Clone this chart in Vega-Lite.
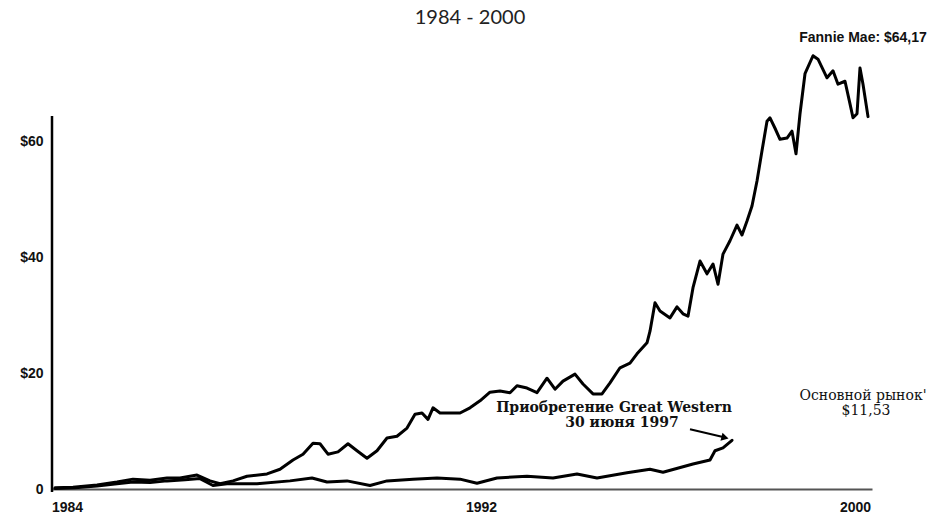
{
  "$schema": "https://vega.github.io/schema/vega-lite/v6.json",
  "width": 820,
  "height": 464,
  "autosize": {"type": "none"},
  "padding": {"left": 52, "top": 25, "right": 68, "bottom": 28},
  "background": "white",
  "config": {"view": {"stroke": null}},
  "title": {"text": "1984 - 2000", "font": "Lato", "fontSize": 20, "fontWeight": "normal", "color": "#222", "anchor": "middle", "dx": 8, "dy": 3, "offset": 0},
  "datasets": {
    "prices": [
      {"series": "Fannie Mae", "year": 1984.00, "price": 0.2},
      {"series": "Fannie Mae", "year": 1984.36, "price": 0.3},
      {"series": "Fannie Mae", "year": 1984.84, "price": 0.7},
      {"series": "Fannie Mae", "year": 1985.24, "price": 1.2},
      {"series": "Fannie Mae", "year": 1985.56, "price": 1.7},
      {"series": "Fannie Mae", "year": 1985.90, "price": 1.5},
      {"series": "Fannie Mae", "year": 1986.24, "price": 1.9},
      {"series": "Fannie Mae", "year": 1986.50, "price": 1.9},
      {"series": "Fannie Mae", "year": 1986.84, "price": 2.4},
      {"series": "Fannie Mae", "year": 1987.10, "price": 1.4},
      {"series": "Fannie Mae", "year": 1987.30, "price": 0.9},
      {"series": "Fannie Mae", "year": 1987.56, "price": 1.4},
      {"series": "Fannie Mae", "year": 1987.84, "price": 2.2},
      {"series": "Fannie Mae", "year": 1988.24, "price": 2.6},
      {"series": "Fannie Mae", "year": 1988.50, "price": 3.4},
      {"series": "Fannie Mae", "year": 1988.76, "price": 5.0},
      {"series": "Fannie Mae", "year": 1988.96, "price": 6.0},
      {"series": "Fannie Mae", "year": 1989.16, "price": 7.9},
      {"series": "Fannie Mae", "year": 1989.30, "price": 7.8},
      {"series": "Fannie Mae", "year": 1989.46, "price": 6.0},
      {"series": "Fannie Mae", "year": 1989.66, "price": 6.4},
      {"series": "Fannie Mae", "year": 1989.86, "price": 7.8},
      {"series": "Fannie Mae", "year": 1990.04, "price": 6.6},
      {"series": "Fannie Mae", "year": 1990.24, "price": 5.3},
      {"series": "Fannie Mae", "year": 1990.44, "price": 6.6},
      {"series": "Fannie Mae", "year": 1990.64, "price": 8.8},
      {"series": "Fannie Mae", "year": 1990.84, "price": 9.1},
      {"series": "Fannie Mae", "year": 1991.04, "price": 10.5},
      {"series": "Fannie Mae", "year": 1991.20, "price": 12.9},
      {"series": "Fannie Mae", "year": 1991.34, "price": 13.1},
      {"series": "Fannie Mae", "year": 1991.46, "price": 12.0},
      {"series": "Fannie Mae", "year": 1991.56, "price": 14.0},
      {"series": "Fannie Mae", "year": 1991.70, "price": 13.1},
      {"series": "Fannie Mae", "year": 1991.90, "price": 13.1},
      {"series": "Fannie Mae", "year": 1992.10, "price": 13.1},
      {"series": "Fannie Mae", "year": 1992.30, "price": 14.0},
      {"series": "Fannie Mae", "year": 1992.50, "price": 15.2},
      {"series": "Fannie Mae", "year": 1992.70, "price": 16.7},
      {"series": "Fannie Mae", "year": 1992.90, "price": 16.9},
      {"series": "Fannie Mae", "year": 1993.10, "price": 16.6},
      {"series": "Fannie Mae", "year": 1993.24, "price": 17.8},
      {"series": "Fannie Mae", "year": 1993.44, "price": 17.4},
      {"series": "Fannie Mae", "year": 1993.64, "price": 16.6},
      {"series": "Fannie Mae", "year": 1993.84, "price": 19.1},
      {"series": "Fannie Mae", "year": 1994.00, "price": 17.2},
      {"series": "Fannie Mae", "year": 1994.16, "price": 18.6},
      {"series": "Fannie Mae", "year": 1994.40, "price": 19.8},
      {"series": "Fannie Mae", "year": 1994.56, "price": 18.1},
      {"series": "Fannie Mae", "year": 1994.76, "price": 16.4},
      {"series": "Fannie Mae", "year": 1994.94, "price": 16.4},
      {"series": "Fannie Mae", "year": 1995.10, "price": 18.3},
      {"series": "Fannie Mae", "year": 1995.30, "price": 20.9},
      {"series": "Fannie Mae", "year": 1995.50, "price": 21.7},
      {"series": "Fannie Mae", "year": 1995.64, "price": 23.3},
      {"series": "Fannie Mae", "year": 1995.84, "price": 25.2},
      {"series": "Fannie Mae", "year": 1995.90, "price": 27.2},
      {"series": "Fannie Mae", "year": 1996.00, "price": 32.1},
      {"series": "Fannie Mae", "year": 1996.10, "price": 30.7},
      {"series": "Fannie Mae", "year": 1996.30, "price": 29.5},
      {"series": "Fannie Mae", "year": 1996.44, "price": 31.4},
      {"series": "Fannie Mae", "year": 1996.56, "price": 30.2},
      {"series": "Fannie Mae", "year": 1996.66, "price": 29.8},
      {"series": "Fannie Mae", "year": 1996.76, "price": 34.7},
      {"series": "Fannie Mae", "year": 1996.90, "price": 39.3},
      {"series": "Fannie Mae", "year": 1997.04, "price": 37.1},
      {"series": "Fannie Mae", "year": 1997.16, "price": 38.8},
      {"series": "Fannie Mae", "year": 1997.26, "price": 35.3},
      {"series": "Fannie Mae", "year": 1997.36, "price": 40.5},
      {"series": "Fannie Mae", "year": 1997.50, "price": 42.8},
      {"series": "Fannie Mae", "year": 1997.64, "price": 45.5},
      {"series": "Fannie Mae", "year": 1997.74, "price": 43.8},
      {"series": "Fannie Mae", "year": 1997.84, "price": 46.2},
      {"series": "Fannie Mae", "year": 1997.94, "price": 48.8},
      {"series": "Fannie Mae", "year": 1998.04, "price": 53.1},
      {"series": "Fannie Mae", "year": 1998.14, "price": 58.3},
      {"series": "Fannie Mae", "year": 1998.24, "price": 63.4},
      {"series": "Fannie Mae", "year": 1998.30, "price": 64.0},
      {"series": "Fannie Mae", "year": 1998.40, "price": 62.2},
      {"series": "Fannie Mae", "year": 1998.50, "price": 60.3},
      {"series": "Fannie Mae", "year": 1998.64, "price": 60.5},
      {"series": "Fannie Mae", "year": 1998.74, "price": 61.7},
      {"series": "Fannie Mae", "year": 1998.82, "price": 57.8},
      {"series": "Fannie Mae", "year": 1998.90, "price": 64.7},
      {"series": "Fannie Mae", "year": 1999.00, "price": 71.6},
      {"series": "Fannie Mae", "year": 1999.16, "price": 74.7},
      {"series": "Fannie Mae", "year": 1999.26, "price": 74.1},
      {"series": "Fannie Mae", "year": 1999.44, "price": 70.9},
      {"series": "Fannie Mae", "year": 1999.56, "price": 72.1},
      {"series": "Fannie Mae", "year": 1999.66, "price": 69.8},
      {"series": "Fannie Mae", "year": 1999.80, "price": 70.3},
      {"series": "Fannie Mae", "year": 1999.90, "price": 66.4},
      {"series": "Fannie Mae", "year": 1999.96, "price": 64.0},
      {"series": "Fannie Mae", "year": 2000.04, "price": 64.7},
      {"series": "Fannie Mae", "year": 2000.10, "price": 72.6},
      {"series": "Fannie Mae", "year": 2000.16, "price": 69.8},
      {"series": "Fannie Mae", "year": 2000.26, "price": 64.2},
      {"series": "Great Western", "year": 1984.00, "price": 0.1},
      {"series": "Great Western", "year": 1984.40, "price": 0.2},
      {"series": "Great Western", "year": 1984.84, "price": 0.5},
      {"series": "Great Western", "year": 1985.24, "price": 0.9},
      {"series": "Great Western", "year": 1985.56, "price": 1.2},
      {"series": "Great Western", "year": 1985.90, "price": 1.1},
      {"series": "Great Western", "year": 1986.24, "price": 1.4},
      {"series": "Great Western", "year": 1986.60, "price": 1.6},
      {"series": "Great Western", "year": 1986.90, "price": 1.8},
      {"series": "Great Western", "year": 1987.16, "price": 0.6},
      {"series": "Great Western", "year": 1987.44, "price": 0.9},
      {"series": "Great Western", "year": 1988.04, "price": 0.9},
      {"series": "Great Western", "year": 1988.70, "price": 1.4},
      {"series": "Great Western", "year": 1989.14, "price": 1.9},
      {"series": "Great Western", "year": 1989.44, "price": 1.2},
      {"series": "Great Western", "year": 1989.84, "price": 1.4},
      {"series": "Great Western", "year": 1990.30, "price": 0.6},
      {"series": "Great Western", "year": 1990.64, "price": 1.4},
      {"series": "Great Western", "year": 1991.16, "price": 1.7},
      {"series": "Great Western", "year": 1991.64, "price": 1.9},
      {"series": "Great Western", "year": 1992.10, "price": 1.7},
      {"series": "Great Western", "year": 1992.44, "price": 1.0},
      {"series": "Great Western", "year": 1992.84, "price": 1.9},
      {"series": "Great Western", "year": 1993.44, "price": 2.2},
      {"series": "Great Western", "year": 1993.96, "price": 1.9},
      {"series": "Great Western", "year": 1994.44, "price": 2.6},
      {"series": "Great Western", "year": 1994.84, "price": 1.9},
      {"series": "Great Western", "year": 1995.44, "price": 2.8},
      {"series": "Great Western", "year": 1995.90, "price": 3.4},
      {"series": "Great Western", "year": 1996.16, "price": 2.9},
      {"series": "Great Western", "year": 1996.76, "price": 4.3},
      {"series": "Great Western", "year": 1997.10, "price": 5.0},
      {"series": "Great Western", "year": 1997.20, "price": 6.6},
      {"series": "Great Western", "year": 1997.36, "price": 7.1},
      {"series": "Great Western", "year": 1997.54, "price": 8.4}
    ],
    "sansLabels": [
      {"label": "Fannie Mae: $64,17", "year": 2000.16, "price": 77.8}
    ],
    "boldSerifLabels": [
      {"label": "Приобретение Great Western", "year": 1995.18, "price": 14.0},
      {"label": "30 июня 1997", "year": 1995.34, "price": 11.3}
    ],
    "serifLabels": [
      {"label": "Основной рынок'", "year": 2000.16, "price": 16.1},
      {"label": "$11,53", "year": 2000.22, "price": 13.4}
    ],
    "one": [{}]
  },
  "layer": [
    {
      "data": {"name": "prices"},
      "mark": {"type": "line", "color": "black", "strokeWidth": 3, "strokeJoin": "round", "strokeCap": "round"},
      "encoding": {
        "x": {
          "field": "year", "type": "quantitative",
          "scale": {"domain": [1983.94, 2000.34], "nice": false, "zero": false},
          "axis": {
            "title": null, "values": [1984, 1992, 2000], "format": "d", "grid": false, "ticks": false,
            "domainColor": "#555", "domainWidth": 2,
            "labelFont": "Liberation Sans", "labelFontWeight": "bold", "labelFontSize": 14, "labelColor": "#111",
            "labelPadding": 11,
            "labelOffset": {"condition": [{"test": "datum.value == 1992", "value": 26}, {"test": "datum.value == 1984", "value": 12}], "value": 0},
            "labelFlush": false
          }
        },
        "y": {
          "field": "price", "type": "quantitative",
          "scale": {"domain": [0, 80], "nice": false},
          "axis": {
            "title": null, "values": [0, 20, 40, 60], "grid": false, "ticks": false, "domain": false,
            "labelExpr": "datum.value == 0 ? '0' : '$' + datum.value",
            "labelFont": "Liberation Sans", "labelFontWeight": "bold", "labelFontSize": 14, "labelColor": "#111",
            "labelPadding": 9
          }
        },
        "detail": {"field": "series", "type": "nominal"}
      }
    },
    {
      "data": {"name": "one"},
      "mark": {"type": "rule", "color": "black", "strokeWidth": 2.5},
      "encoding": {
        "x": {"datum": 1983.94, "type": "quantitative"},
        "y": {"datum": -0.5, "type": "quantitative"},
        "y2": {"datum": 64.3}
      }
    },
    {
      "data": {"name": "one"},
      "mark": {"type": "rule", "color": "black", "strokeWidth": 2},
      "encoding": {
        "x": {"datum": 1996.7, "type": "quantitative"},
        "y": {"datum": 10.3, "type": "quantitative"},
        "x2": {"datum": 1997.36},
        "y2": {"datum": 8.95}
      }
    },
    {
      "data": {"name": "one"},
      "mark": {"type": "point", "shape": "triangle-right", "filled": true, "color": "black", "size": 70, "angle": 14, "opacity": 1},
      "encoding": {
        "x": {"datum": 1997.4, "type": "quantitative"},
        "y": {"datum": 8.85, "type": "quantitative"}
      }
    },
    {
      "data": {"name": "sansLabels"},
      "mark": {"type": "text", "font": "Liberation Sans", "fontSize": 14, "fontWeight": "bold", "color": "#111", "align": "center", "baseline": "middle"},
      "encoding": {
        "x": {"field": "year", "type": "quantitative"},
        "y": {"field": "price", "type": "quantitative"},
        "text": {"field": "label"}
      }
    },
    {
      "data": {"name": "boldSerifLabels"},
      "mark": {"type": "text", "font": "DejaVu Serif", "fontSize": 14, "fontWeight": "bold", "color": "#111", "align": "center", "baseline": "middle"},
      "encoding": {
        "x": {"field": "year", "type": "quantitative"},
        "y": {"field": "price", "type": "quantitative"},
        "text": {"field": "label"}
      }
    },
    {
      "data": {"name": "serifLabels"},
      "mark": {"type": "text", "font": "DejaVu Serif", "fontSize": 14, "fontWeight": "normal", "color": "#111", "align": "center", "baseline": "middle"},
      "encoding": {
        "x": {"field": "year", "type": "quantitative"},
        "y": {"field": "price", "type": "quantitative"},
        "text": {"field": "label"}
      }
    }
  ]
}
